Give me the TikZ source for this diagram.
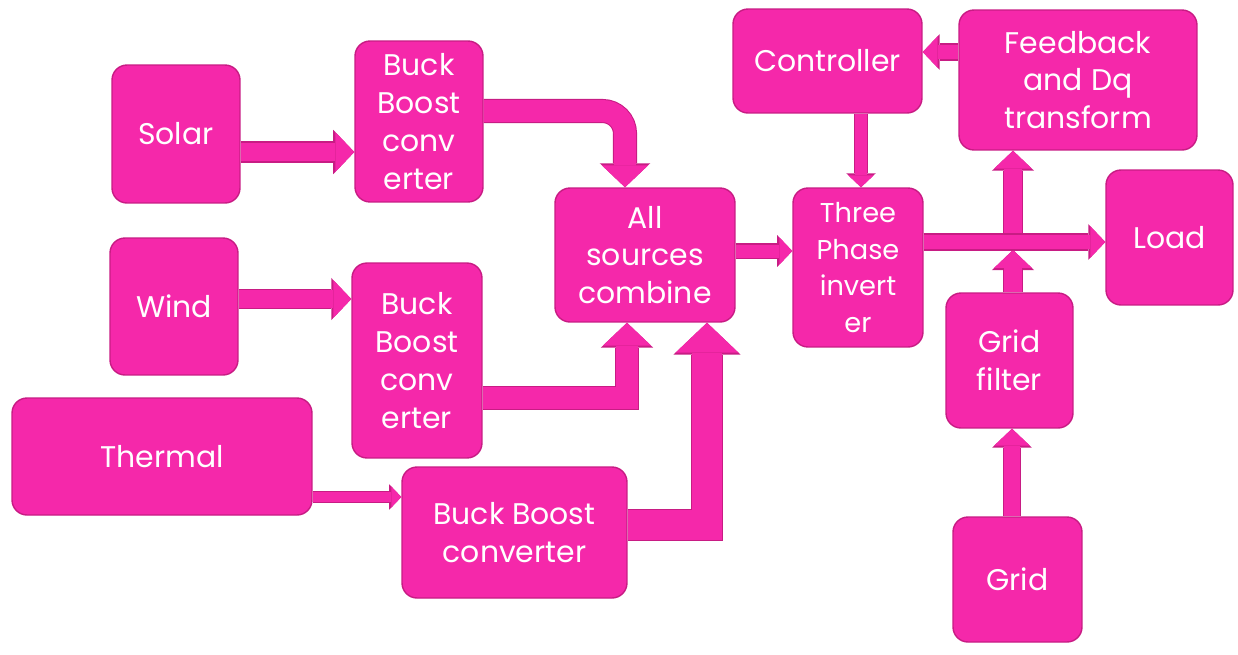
\documentclass[tikz,border=0pt]{standalone}
\usepackage{fontspec}
\setmainfont{Poppins}
\usetikzlibrary{arrows.meta}
\definecolor{boxpink}{RGB}{245,40,170}
\definecolor{edgepink}{RGB}{200,28,132}

\begin{document}
\begin{tikzpicture}[x=0.02cm,y=-0.02cm,
  blk/.style={draw=edgepink,fill=boxpink,line width=.8pt,rounded corners=.3cm,
    text=white,align=center,inner sep=0pt,font=\fontsize{17}{21.5}\selectfont},
  flow/.style={draw=boxpink,line width=#1,
    -{Triangle[width=0pt 2.1,length=0pt 1,line width=0pt]},
    preaction={draw=edgepink,line width=#1+1.2pt,
      -{Triangle[width=0pt 2.1,length=0pt 1,line width=0pt]}}}]
  \useasboundingbox (0,0) rectangle (1238,654);
  % Sources and their converters
  \node[blk,minimum width=2.56cm,minimum height=2.76cm] (solar) at (176,134) {Solar};
  \node[blk,minimum width=2.56cm,minimum height=3.22cm] (buckA) at (419,121.5) {Buck\\Boost\\conv\\erter};
  \node[blk,minimum width=2.56cm,minimum height=2.74cm] (wind) at (174,306.5) {Wind};
  \node[blk,minimum width=2.6cm,minimum height=3.9cm] (buckB) at (417,360.5) {Buck\\Boost\\conv\\erter};
  \node[blk,minimum width=6cm,minimum height=2.34cm] (thermal) at (162,456.5) {Thermal};
  \node[blk,minimum width=4.5cm,minimum height=2.62cm] (buckC) at (514.5,532.5) {Buck Boost\\converter};
  \node[blk,minimum width=3.6cm,minimum height=2.68cm] (combine) at (645,255) {All\\sources\\combine};
  % Inverter side
  \node[blk,minimum width=2.6cm,minimum height=3.18cm,font=\fontsize{15.5}{21}\selectfont] (inverter) at (858,267.5) {Three\\Phase\\invert\\er};
  \node[blk,minimum width=3.78cm,minimum height=2.08cm] (controller) at (827.5,61) {Controller};
  \node[blk,minimum width=4.76cm,minimum height=2.8cm] (feedback) at (1078,80) {Feedback\\and Dq\\transform};
  \node[blk,minimum width=2.54cm,minimum height=2.7cm] (load) at (1169.5,237.5) {Load};
  \node[blk,minimum width=2.54cm,minimum height=2.7cm] (gridf) at (1009.5,360.5) {Grid\\filter};
  \node[blk,minimum width=2.58cm,minimum height=2.5cm] (grid) at (1017.5,579.5) {Grid};
  % Tapping point on the inverter output line
  \coordinate (jtop) at (1013,235);
  \coordinate (jbot) at (1013,250);
  % Power flow
  \draw[flow=10.8pt] (solar.east |- 0,152) -- (buckA.west |- 0,152);
  \draw[flow=10.2pt] (wind.east |- 0,299) -- (buckB.west |- 0,299);
  \draw[flow=5.7pt] (thermal.east |- 0,497) -- (buckC.west |- 0,497);
  \draw[flow=12.5pt,rounded corners=.45cm] (buckA.east |- 0,111) -| (combine.north -| 625,0);
  \draw[flow=13pt] (buckB.east |- 0,398) -| (combine.south -| 627,0);
  \draw[flow=17pt] (buckC.east |- 0,525) -| (combine.south -| 707,0);
  \draw[flow=7.4pt] (combine.east |- 0,251) -- (inverter.west |- 0,251);
  \draw[flow=6.8pt] (controller.south -| 861,0) -- (inverter.north -| 861,0);
  \draw[flow=8.5pt] (feedback.west |- 0,52) -- (controller.east |- 0,52);
  \draw[flow=10.2pt] (jtop) -- (feedback.south -| jtop);
  \draw[flow=10.2pt] (gridf.north -| jbot) -- (jbot);
  \draw[flow=9.6pt] (grid.north -| 1012,0) -- (gridf.south -| 1012,0);
  \draw[flow=8.5pt] (inverter.east |- 0,242) -- (load.west |- 0,242);
\end{tikzpicture}
\end{document}
